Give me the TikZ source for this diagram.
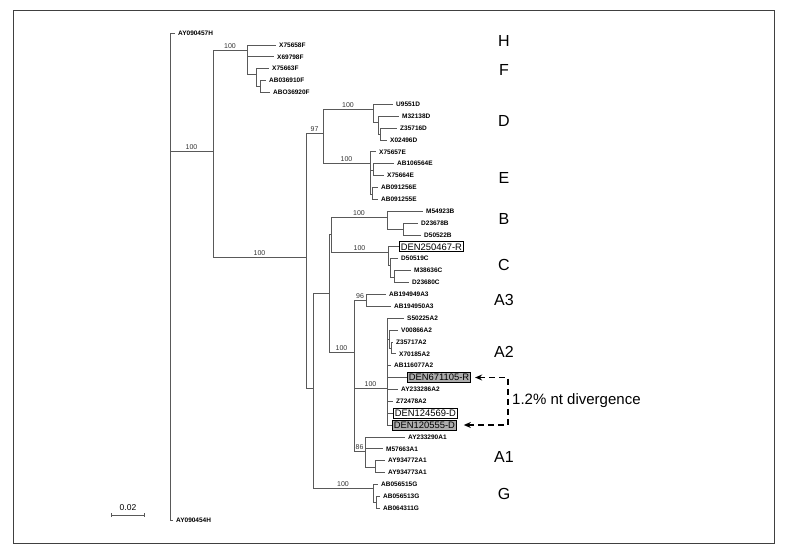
\documentclass[tikz,border=0pt]{standalone}
\usepackage{fontspec}
\setmainfont{Liberation Sans}
\usepackage{tikz}
\usetikzlibrary{positioning,arrows.meta}

\begin{document}
\begin{tikzpicture}[x=1pt,y=-1pt,
  branch/.style={draw=black!65,line width=0.8pt},
  leaf/.style={anchor=west,inner xsep=3pt,inner ysep=0pt,font=\fontsize{6.5}{7}\selectfont\bfseries},
  isolate/.style={draw,line width=0.7pt,anchor=west,inner xsep=1.5pt,inner ysep=0.6pt,minimum height=10pt,font=\fontsize{9.4}{10}\selectfont},
  boot/.style={above,inner sep=0.8pt,font=\fontsize{7}{8}\selectfont,text=black!80},
  clade/.style={font=\fontsize{16}{18}\selectfont},
  divline/.style={line width=1.5pt,dash pattern=on 6pt off 4pt,{Stealth[length=7pt,width=6pt]}-{Stealth[length=7pt,width=6pt]}}
]
  \useasboundingbox (0,0) rectangle (787,554);
  \draw[black!75,line width=1pt] (13,10) rectangle (774,543);

  \coordinate (root) at (170,151);
  \coordinate (n1) at (213,151);
  \coordinate (hf) at (247,50);
  \coordinate (f2) at (256,74);
  \coordinate (f3) at (260,86);
  \coordinate (n2) at (306,257);
  \coordinate (de) at (323,133);
  \coordinate (dn) at (373,109);
  \coordinate (d2) at (378,122);
  \coordinate (d3) at (380,134);
  \coordinate (en) at (370,163);
  \coordinate (e2) at (373,170);
  \coordinate (e3) at (372,194);
  \coordinate (n3) at (313,388);
  \coordinate (n4) at (329,293);
  \coordinate (bc) at (331,234);
  \coordinate (bn) at (387,217);
  \coordinate (b2) at (403,229);
  \coordinate (cn) at (388,252);
  \coordinate (c2) at (390,265);
  \coordinate (c3) at (394,277);
  \coordinate (an) at (354,352);
  \coordinate (a3) at (366,300);
  \coordinate (a2) at (387,388);
  \coordinate (a2a) at (389,339);
  \coordinate (a2b) at (391,348);
  \coordinate (a1) at (365,451);
  \coordinate (a1b) at (375,467);
  \coordinate (gn) at (373,488);
  \coordinate (g2) at (376,502);

  \node[leaf] (ay57h) at (175,33.0) {AY090457H};
  \node[leaf] (fX58) at (276,44.9) {X75658F};
  \node[leaf] (fX98) at (274,56.8) {X69798F};
  \node[leaf] (fX63) at (269,68.6) {X75663F};
  \node[leaf] (fAB10) at (266,80.5) {AB036910F};
  \node[leaf] (fAB20) at (270,92.4) {ABO36920F};
  \node[leaf] (dU51) at (393,104.3) {U9551D};
  \node[leaf] (dM38) at (399,116.2) {M32138D};
  \node[leaf] (dZ16) at (397,128.0) {Z35716D};
  \node[leaf] (dX96) at (387,139.9) {X02496D};
  \node[leaf] (eX57) at (376,151.8) {X75657E};
  \node[leaf] (eAB64) at (394,163.7) {AB106564E};
  \node[leaf] (eX64) at (384,175.6) {X75664E};
  \node[leaf] (eAB56) at (378,187.4) {AB091256E};
  \node[leaf] (eAB55) at (378,199.3) {AB091255E};
  \node[leaf] (bM23) at (423,211.2) {M54923B};
  \node[leaf] (bD78) at (418,223.1) {D23678B};
  \node[leaf] (bD22) at (421,235.0) {D50522B};
  \node[isolate,fill=white] (den250) at (399,246.8) {DEN250467-R};
  \node[leaf] (cD19) at (398,258.7) {D50519C};
  \node[leaf] (cM36) at (411,270.6) {M38636C};
  \node[leaf] (cD80) at (409,282.5) {D23680C};
  \node[leaf] (a3AB49) at (386,294.4) {AB194949A3};
  \node[leaf] (a3AB50) at (391,306.2) {AB194950A3};
  \node[leaf] (a2S25) at (404,318.1) {S50225A2};
  \node[leaf] (a2V66) at (398,330.0) {V00866A2};
  \node[leaf] (a2Z17) at (393,341.9) {Z35717A2};
  \node[leaf] (a2X85) at (396,353.8) {X70185A2};
  \node[leaf] (a2AB77) at (391,365.6) {AB116077A2};
  \node[isolate,fill=black!32] (den671) at (407,377.5) {DEN671105-R};
  \node[leaf] (a2AY86) at (398,389.4) {AY233286A2};
  \node[leaf] (a2Z78) at (393,401.3) {Z72478A2};
  \node[isolate,fill=white] (den124) at (393,413.2) {DEN124569-D};
  \node[isolate,fill=black!32] (den120) at (392,425.0) {DEN120555-D};
  \node[leaf] (a1AY90) at (405,436.9) {AY233290A1};
  \node[leaf] (a1M63) at (383,448.8) {M57663A1};
  \node[leaf] (a1AY72) at (385,460.7) {AY934772A1};
  \node[leaf] (a1AY73) at (385,472.6) {AY934773A1};
  \node[leaf] (gAB15) at (378,484.4) {AB056515G};
  \node[leaf] (gAB13) at (380,496.3) {AB056513G};
  \node[leaf] (gAB11) at (380,508.2) {AB064311G};
  \node[leaf] (ay54h) at (173,520.1) {AY090454H};

  \draw[branch] (root) |- (ay57h.west) (root) |- node[boot,pos=0.75]{100} (n1) (root) |- (ay54h.west);
  \draw[branch] (n1) |- node[boot,pos=0.75]{100} (hf) (n1) |- node[boot,pos=0.75]{100} (n2);
  \draw[branch] (hf) |- (fX58.west) (hf) |- (fX98.west) (hf) |- (f2);
  \draw[branch] (f2) |- (fX63.west) (f2) |- (f3);
  \draw[branch] (f3) |- (fAB10.west) (f3) |- (fAB20.west);
  \draw[branch] (n2) |- node[boot,pos=0.75]{97} (de) (n2) |- (n3);
  \draw[branch] (de) |- node[boot,pos=0.75]{100} (dn) (de) |- node[boot,pos=0.75]{100} (en);
  \draw[branch] (dn) |- (dU51.west) (dn) |- (d2);
  \draw[branch] (d2) |- (dM38.west) (d2) |- (d3);
  \draw[branch] (d3) |- (dZ16.west) (d3) |- (dX96.west);
  \draw[branch] (en) |- (eX57.west) (en) |- (e2) (en) |- (e3);
  \draw[branch] (e2) |- (eAB64.west) (e2) |- (eX64.west);
  \draw[branch] (e3) |- (eAB56.west) (e3) |- (eAB55.west);
  \draw[branch] (n3) |- (n4) (n3) |- node[boot,pos=0.75]{100} (gn);
  \draw[branch] (n4) |- (bc) (n4) |- node[boot,pos=0.75]{100} (an);
  \draw[branch] (bc) |- node[boot,pos=0.75]{100} (bn) (bc) |- node[boot,pos=0.75]{100} (cn);
  \draw[branch] (bn) |- (bM23.west) (bn) |- (b2);
  \draw[branch] (b2) |- (bD78.west) (b2) |- (bD22.west);
  \draw[branch] (cn) |- (den250.west) (cn) |- (c2);
  \draw[branch] (c2) |- (cD19.west) (c2) |- (c3);
  \draw[branch] (c3) |- (cM36.west) (c3) |- (cD80.west);
  \draw[branch] (an) |- node[boot,pos=0.75]{96} (a3) (an) |- node[boot,pos=0.75]{100} (a2) (an) |- node[boot,pos=0.75]{86} (a1);
  \draw[branch] (a3) |- (a3AB49.west) (a3) |- (a3AB50.west);
  \draw[branch] (a2) |- (a2S25.west) (a2) |- (a2a) (a2) |- (a2AB77.west) (a2) |- (den671.west)
    (a2) |- (a2AY86.west) (a2) |- (a2Z78.west) (a2) |- (den124.west) (a2) |- (den120.west);
  \draw[branch] (a2a) |- (a2V66.west) (a2a) |- (a2b);
  \draw[branch] (a2b) |- (a2Z17.west) (a2b) |- (a2X85.west);
  \draw[branch] (a1) |- (a1AY90.west) (a1) |- (a1M63.west) (a1) |- (a1b);
  \draw[branch] (a1b) |- (a1AY72.west) (a1b) |- (a1AY73.west);
  \draw[branch] (gn) |- (gAB15.west) (gn) |- (g2);
  \draw[branch] (g2) |- (gAB13.west) (g2) |- (gAB11.west);

  \node[clade] (cH) at (504,41) {H};
  \node[clade] (cF) at (504,70) {F};
  \node[clade] (cD) at (504,121) {D};
  \node[clade] (cE) at (504,178) {E};
  \node[clade] (cB) at (504,219) {B};
  \node[clade] (cC) at (504,265) {C};
  \node[clade] (cA3) at (504,300) {A3};
  \node[clade] (cA2) at (504,352) {A2};
  \node[clade] (cA1) at (504,457) {A1};
  \node[clade] (cG) at (504,494) {G};

  \coordinate (brk) at (508,401);
  \draw[divline] ([xshift=4pt]den671.east) -- (den671.east -| brk) |- ([xshift=7pt]den120.east);
  \node[anchor=west,inner sep=1pt,font=\fontsize{15}{17}\selectfont] (divtxt) at (511,401) {1.2\% nt divergence};

  \coordinate (sb0) at (111,515);
  \coordinate (sb1) at (145,515);
  \draw[branch,{Bar[width=4pt]}-{Bar[width=4pt]}] (sb0) -- node[above=1pt,font=\fontsize{8.5}{9}\selectfont] (sblab) {0.02} (sb1);
\end{tikzpicture}
\end{document}
